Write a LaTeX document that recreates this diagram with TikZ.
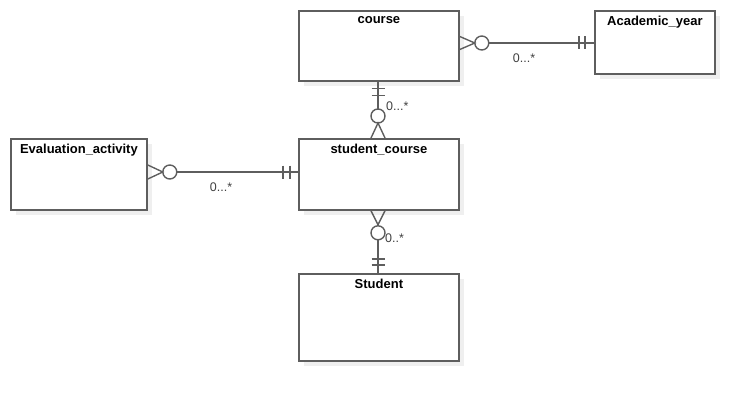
\documentclass[tikz,border=0pt]{standalone}
\usepackage{fontspec}
\setmainfont{Liberation Sans}
\usetikzlibrary{calc}
\definecolor{ln}{HTML}{5E5E5E}
\definecolor{shd}{HTML}{EFEFEF}
\definecolor{lbl}{HTML}{404040}
\begin{document}
\begin{tikzpicture}[x=1pt,y=-1pt,
  entity/.style={draw=ln,line width=1.8pt,fill=white,anchor=north west,inner sep=0pt},
  ttl/.style={font=\fontsize{13}{15}\selectfont\bfseries,anchor=north,inner sep=0pt},
  conn/.style={draw=ln,line width=1.4pt},
  card/.style={font=\fontsize{12.5}{14}\selectfont,text=lbl,inner sep=0pt}]
\useasboundingbox (0,0) rectangle (754,401);
% shadows
\fill[shd] (304,16) rectangle (464,86);
\fill[shd] (600,16) rectangle (720,79);
\fill[shd] (16,144) rectangle (152,215);
\fill[shd] (304,144) rectangle (464,215);
\fill[shd] (304,279) rectangle (464,366);
% entities
\node[entity,minimum width=160pt,minimum height=70pt] (course) at (298,10) {};
\node[entity,minimum width=120pt,minimum height=63pt] (acad) at (594,10) {};
\node[entity,minimum width=136pt,minimum height=71pt] (eval) at (10,138) {};
\node[entity,minimum width=160pt,minimum height=71pt] (sc) at (298,138) {};
\node[entity,minimum width=160pt,minimum height=87pt] (stud) at (298,273) {};
\node[ttl] (tcourse) at ($(course.north)+(0,6.5)$) {course};
\node[ttl] (tacad) at ($(acad.north)+(0,5.5)$) {Academic\_year};
\node[ttl] (teval) at ($(eval.north)+(0,5.5)$) {Evaluation\_activity};
\node[ttl] (tsc) at ($(sc.north)+(0,5.5)$) {student\_course};
\node[ttl] (tstud) at ($(stud.north)+(0,5.5)$) {Student};
% course -- Academic_year (y=43)
\coordinate (c1) at ($(course.north east)+(0,33)$);
\coordinate (a1) at ($(acad.north west)+(0,33)$);
\draw[conn] ($(c1)+(0,-6.5)$) -- ($(c1)+(15,0)$) -- ($(c1)+(0,6.5)$);
\draw[conn] ($(c1)+(22,0)$) circle (7);
\draw[conn] ($(c1)+(29,0)$) -- (a1);
\draw[conn] ($(a1)+(-15,-6.5)$) -- ($(a1)+(-15,6.5)$);
\draw[conn] ($(a1)+(-9,-6.5)$) -- ($(a1)+(-9,6.5)$);
\node[card] (l1) at (524,58) {0...*};
% course -- student_course (x=378)
\coordinate (c2) at ($(course.south west)+(80,0)$);
\coordinate (s2) at ($(sc.north west)+(80,0)$);
\draw[conn] (c2) -- ($(s2)+(0,-29)$);
\draw[conn] ($(c2)+(-6.5,7)$) -- ($(c2)+(6.5,7)$);
\draw[conn] ($(c2)+(-6.5,14)$) -- ($(c2)+(6.5,14)$);
\draw[conn] ($(s2)+(0,-22)$) circle (7);
\draw[conn] ($(s2)+(-7,0)$) -- ($(s2)+(0,-15)$) -- ($(s2)+(7,0)$);
\node[card,anchor=west] (l2) at (386,106) {0...*};
% Evaluation_activity -- student_course (y=172)
\coordinate (e3) at ($(eval.north east)+(0,34)$);
\coordinate (s3) at ($(sc.north west)+(0,34)$);
\draw[conn] ($(e3)+(0,-7)$) -- ($(e3)+(15,0)$) -- ($(e3)+(0,7)$);
\draw[conn] ($(e3)+(22,0)$) circle (7);
\draw[conn] ($(e3)+(29,0)$) -- (s3);
\draw[conn] ($(s3)+(-15,-6.5)$) -- ($(s3)+(-15,6.5)$);
\draw[conn] ($(s3)+(-8,-6.5)$) -- ($(s3)+(-8,6.5)$);
\node[card] (l3) at (221,187) {0...*};
% student_course -- Student (x=378)
\coordinate (s4) at ($(sc.south west)+(80,0)$);
\coordinate (t4) at ($(stud.north west)+(80,0)$);
\draw[conn] ($(s4)+(-7,0)$) -- ($(s4)+(0,14)$) -- ($(s4)+(7,0)$);
\draw[conn] ($(s4)+(0,22)$) circle (7);
\draw[conn] ($(s4)+(0,29)$) -- (t4);
\draw[conn] ($(t4)+(-6.5,-14)$) -- ($(t4)+(6.5,-14)$);
\draw[conn] ($(t4)+(-6.5,-8)$) -- ($(t4)+(6.5,-8)$);
\node[card,anchor=west] (l4) at (385,238) {0..*};
\end{tikzpicture}
\end{document}
